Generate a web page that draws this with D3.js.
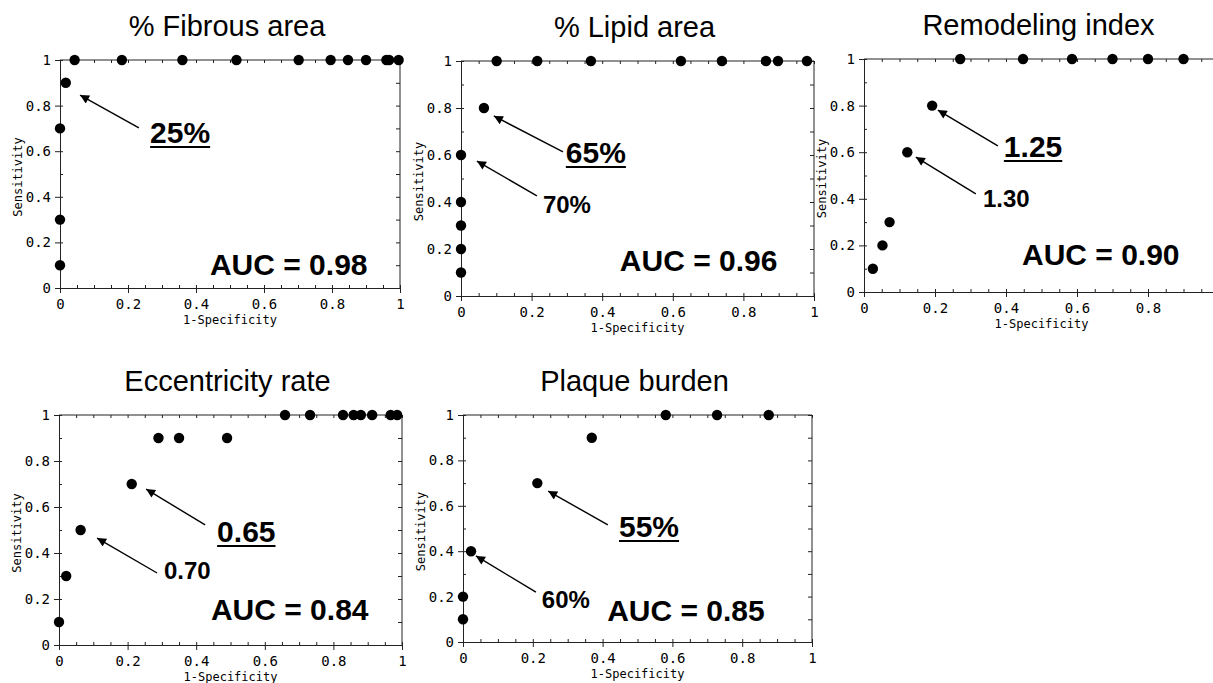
<!DOCTYPE html>
<html>
<head>
<meta charset="utf-8">
<script src="https://cdn.jsdelivr.net/npm/d3@7"></script>
<style>
	body { margin: 0; background: #fff; }
	svg { display: block; }
</style>
</head>
<body>
<script>
// ROC data (1-specificity, sensitivity)
var titles = ["% Fibrous area", "% Lipid area", "Remodeling index", "Eccentricity rate", "Plaque burden"];
var aucLabels = ["AUC = 0.98", "AUC = 0.96", "AUC = 0.90", "AUC = 0.84", "AUC = 0.85"];

var fibrousFpr  = [0, 0, 0, 0.017, 0.043, 0.182, 0.36, 0.519, 0.702, 0.796, 0.847, 0.9, 0.96, 0.968, 0.996];
var fibrousSens = [0.1, 0.3, 0.7, 0.9, 1, 1, 1, 1, 1, 1, 1, 1, 1, 1, 1];

var lipidFpr  = [0, 0, 0, 0, 0, 0.065, 0.101, 0.216, 0.368, 0.623, 0.739, 0.864, 0.898, 0.98];
var lipidSens = [0.1, 0.2, 0.3, 0.4, 0.6, 0.8, 1, 1, 1, 1, 1, 1, 1, 1];

var remodFpr  = [0.025, 0.052, 0.072, 0.122, 0.192, 0.271, 0.448, 0.586, 0.7, 0.8, 0.9];
var remodSens = [0.1, 0.2, 0.3, 0.6, 0.8, 1, 1, 1, 1, 1, 1];

var eccFpr  = [0, 0.021, 0.063, 0.212, 0.29, 0.35, 0.49, 0.659, 0.732, 0.828, 0.859, 0.88, 0.913, 0.967, 0.986];
var eccSens = [0.1, 0.3, 0.5, 0.7, 0.9, 0.9, 0.9, 1, 1, 1, 1, 1, 1, 1, 1];

var plaqueFpr  = [0, 0, 0.023, 0.213, 0.369, 0.581, 0.728, 0.876];
var plaqueSens = [0.1, 0.2, 0.4, 0.7, 0.9, 1, 1, 1];

// optimal cut-off (underlined) and second cut-off labels
var bestCutoffs = ["25%", "65%", "1.25", "0.65", "55%"];
var otherCutoffs = [null, "70%", "1.30", "0.70", "60%"];

var tickValues = [0, 0.2, 0.4, 0.6, 0.8, 1];

// annotation placement, in data units of each panel
var bestCallout = [
	{tx: 0.265, ty: 0.636, x1: 0.232, y1: 0.702, x2: 0.059, y2: 0.846},
	{tx: 0.297, ty: 0.566, x1: 0.289, y1: 0.613, x2: 0.093, y2: 0.766},
	{tx: 0.394, ty: 0.579, x1: 0.377, y1: 0.627, x2: 0.208, y2: 0.781},
	{tx: 0.461, ty: 0.448, x1: 0.426, y1: 0.522, x2: 0.254, y2: 0.678},
	{tx: 0.447, ty: 0.463, x1: 0.415, y1: 0.516, x2: 0.244, y2: 0.665}
];
var otherCallout = [
	null,
	{tx: 0.232, ty: 0.353, x1: 0.215, y1: 0.426, x2: 0.045, y2: 0.574},
	{tx: 0.335, ty: 0.365, x1: 0.315, y1: 0.421, x2: 0.146, y2: 0.579},
	{tx: 0.306, ty: 0.287, x1: 0.286, y1: 0.313, x2: 0.111, y2: 0.465},
	{tx: 0.226, ty: 0.150, x1: 0.209, y1: 0.220, x2: 0.037, y2: 0.379}
];
var aucPos = [[0.441, 0.057], [0.450, 0.106], [0.445, 0.116], [0.443, 0.109], [0.413, 0.093]];

var fprs = [fibrousFpr, lipidFpr, remodFpr, eccFpr, plaqueFpr];
var senss = [fibrousSens, lipidSens, remodSens, eccSens, plaqueSens];

var boxes = [
	{left: 60,  top: 60,  width: 340, height: 228},
	{left: 461, top: 61,  width: 353, height: 235},
	{left: 864, top: 59,  width: 355, height: 233},
	{left: 59,  top: 415, width: 343, height: 230},
	{left: 463, top: 415, width: 349, height: 227}
];

var width = 1213,
	height = 683;

var svg = d3.select("body").append("svg")
	.attr("width", width)
	.attr("height", height);

svg.append("defs").append("marker")
	.attr("id", "arrowhead")
	.attr("viewBox", "0 0 10 10")
	.attr("refX", 10)
	.attr("refY", 5)
	.attr("markerUnits", "userSpaceOnUse")
	.attr("markerWidth", 12)
	.attr("markerHeight", 9)
	.attr("orient", "auto")
	.append("path")
		.attr("d", "M0,0L10,5L0,10Z")
		.attr("fill", "#000");

var tickFmt = function(d) { return (d === 0 || d === 1) ? String(d) : d3.format(".1f")(d); };
var monoFont = "'DejaVu Sans Mono', monospace";
var sansFont = "'Liberation Sans', Arial, sans-serif";

titles.forEach(function(title, i) {
	var b = boxes[i];
	var x = d3.scaleLinear().domain([0, 1]).range([0, b.width]);
	var y = d3.scaleLinear().domain([0, 1]).range([b.height, 0]);

	var g = svg.append("g")
		.attr("transform", "translate(" + b.left + "," + b.top + ")");

	// title
	g.append("text")
		.attr("x", b.width / 2 - 3)
		.attr("y", -24)
		.attr("text-anchor", "middle")
		.style("font-family", sansFont)
		.style("font-size", "29px")
		.text(title);

	// minor ticks (x every 0.05, y every 0.1)
	var minorX = d3.range(0, 1.0001, 0.05);
	var minorY = d3.range(0, 1.0001, 0.1);

	g.append("g").attr("class", "minor")
		.attr("transform", "translate(0," + b.height + ")")
		.call(d3.axisBottom(x).tickValues(minorX).tickSize(-3).tickFormat(""));
	g.append("g").attr("class", "minor")
		.call(d3.axisLeft(y).tickValues(minorY).tickSize(-3).tickFormat(""));
	g.append("g").attr("class", "minor")
		.call(d3.axisTop(x).tickValues(minorX).tickSize(-3).tickFormat(""));
	g.append("g").attr("class", "minor")
		.attr("transform", "translate(" + b.width + ",0)")
		.call(d3.axisRight(y).tickValues(minorY).tickSize(-4).tickFormat(""));

	// major axes; the right-hand panel runs off the page, so drop labels past the edge
	var visibleTicks = tickValues.filter(function(d) { return b.left + x(d) + 6 < width; });
	var xAxis = g.append("g")
		.attr("transform", "translate(0," + b.height + ")")
		.call(d3.axisBottom(x).tickValues(tickValues).tickSize(5).tickPadding(6)
			.tickFormat(function(d) { return visibleTicks.indexOf(d) >= 0 ? tickFmt(d) : ""; }));
	var yAxis = g.append("g")
		.call(d3.axisLeft(y).tickValues(tickValues).tickSize(5).tickPadding(4).tickFormat(tickFmt));

	g.selectAll(".minor .domain").remove();
	g.selectAll(".tick line").attr("stroke", "#222");
	g.selectAll(".domain").attr("stroke", "#222");
	[xAxis, yAxis].forEach(function(a) {
		a.selectAll("text")
			.style("font-family", monoFont)
			.style("font-size", "14px")
			.attr("fill", "#000");
	});

	// frame top and right
	g.append("line").attr("x1", 0).attr("x2", b.width).attr("y1", 0).attr("y2", 0)
		.attr("stroke", "#222");
	g.append("line").attr("x1", b.width).attr("x2", b.width).attr("y1", 0).attr("y2", b.height)
		.attr("stroke", "#222");

	// axis titles
	g.append("text")
		.attr("x", b.width / 2)
		.attr("y", b.height + 36)
		.attr("text-anchor", "middle")
		.style("font-family", monoFont)
		.style("font-size", "12px")
		.text("1-Specificity");
	g.append("text")
		.attr("transform", "translate(-38," + (b.height / 2 + 3) + ") rotate(-90)")
		.attr("text-anchor", "middle")
		.style("font-family", monoFont)
		.style("font-size", "12px")
		.text("Sensitivity");

	// points
	g.selectAll("circle.pt")
		.data(d3.zip(fprs[i], senss[i]))
		.enter()
		.append("circle")
		.attr("class", "pt")
		.attr("cx", function(d) { return x(d[0]); })
		.attr("cy", function(d) { return y(d[1]); })
		.attr("r", 5.2)
		.attr("fill", "#000");

	// AUC
	g.append("text")
		.attr("x", x(aucPos[i][0]))
		.attr("y", y(aucPos[i][1]))
		.style("font-family", sansFont)
		.style("font-weight", "bold")
		.style("font-size", "30px")
		.text(aucLabels[i]);

	// best cut-off, underlined
	var bc = bestCallout[i];
	g.append("line")
		.attr("x1", x(bc.x1)).attr("y1", y(bc.y1))
		.attr("x2", x(bc.x2)).attr("y2", y(bc.y2))
		.attr("stroke", "#000")
		.attr("stroke-width", 1.4)
		.attr("marker-end", "url(#arrowhead)");
	var bt = g.append("text")
		.attr("x", x(bc.tx))
		.attr("y", y(bc.ty))
		.style("font-family", sansFont)
		.style("font-weight", "bold")
		.style("font-size", "30px")
		.text(bestCutoffs[i]);
	var tw = bt.node().getComputedTextLength();
	g.append("line")
		.attr("x1", x(bc.tx)).attr("x2", x(bc.tx) + tw)
		.attr("y1", y(bc.ty) + 4).attr("y2", y(bc.ty) + 4)
		.attr("stroke", "#000")
		.attr("stroke-width", 2);

	// second cut-off
	var oc = otherCallout[i];
	if (oc) {
		g.append("line")
			.attr("x1", x(oc.x1)).attr("y1", y(oc.y1))
			.attr("x2", x(oc.x2)).attr("y2", y(oc.y2))
			.attr("stroke", "#000")
			.attr("stroke-width", 1.4)
			.attr("marker-end", "url(#arrowhead)");
		g.append("text")
			.attr("x", x(oc.tx))
			.attr("y", y(oc.ty))
			.style("font-family", sansFont)
			.style("font-weight", "bold")
			.style("font-size", "24px")
			.text(otherCutoffs[i]);
	}
});
</script>
</body>
</html>
